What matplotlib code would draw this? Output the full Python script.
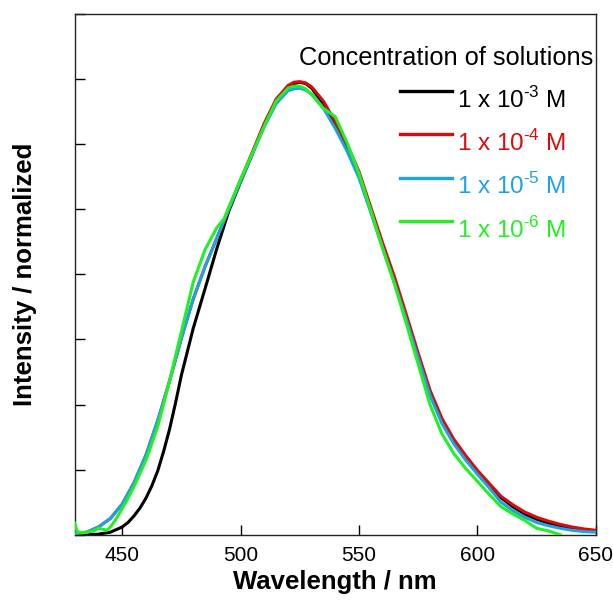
import numpy as np
import matplotlib.pyplot as plt

plt.rcParams['font.family'] = ['Liberation Sans', 'DejaVu Sans']
plt.rcParams['mathtext.fontset'] = 'custom'
plt.rcParams['mathtext.rm'] = 'Liberation Sans'

# intensities (tick units, peak ~6.95)
wl_k = [430, 435, 440, 445, 450, 452.5, 455, 457.5, 460, 462.5, 465, 467.5,
        470, 472.5, 475, 480, 485, 490, 495, 500, 505, 510, 515, 520, 522.5,
        525, 527.5, 530, 535, 540, 545, 550, 555, 560, 565, 570, 575, 580, 585,
        590, 595, 600, 605, 610, 615, 620, 625, 630, 635, 640, 645, 650]
i_1e3 = [0.0, 0.0, 0.01, 0.04, 0.12, 0.19, 0.29, 0.41, 0.56, 0.75, 0.98, 1.28,
         1.62, 2.02, 2.45, 3.17, 3.78, 4.40, 4.97, 5.42, 5.85, 6.30, 6.66, 6.88,
         6.93, 6.95, 6.93, 6.86, 6.62, 6.30, 5.95, 5.53, 4.98, 4.42, 3.90, 3.32,
         2.73, 2.17, 1.75, 1.43, 1.19, 0.97, 0.77, 0.57, 0.43, 0.32, 0.24, 0.18,
         0.14, 0.10, 0.07, 0.05]

wl = [430, 435, 440, 445, 450, 455, 460, 465, 470, 475, 480, 485, 490, 495,
      500, 505, 510, 515, 520, 522.5, 525, 527.5, 530, 535, 540, 545, 550, 555,
      560, 565, 570, 575, 580, 585, 590, 595, 600, 605, 610, 615, 620, 625,
      630, 635, 640, 645, 650]

i_1e4 = [0.02, 0.04, 0.12, 0.25, 0.47, 0.80, 1.22, 1.75, 2.36, 3.02, 3.62, 4.12,
         4.56, 5.00, 5.45, 5.88, 6.32, 6.69, 6.90, 6.95, 6.96, 6.94, 6.88, 6.66,
         6.34, 5.99, 5.58, 5.03, 4.48, 3.96, 3.38, 2.79, 2.22, 1.79, 1.47, 1.22,
         0.99, 0.79, 0.59, 0.46, 0.35, 0.27, 0.21, 0.16, 0.12, 0.09, 0.07]

i_1e5 = [0.02, 0.04, 0.12, 0.25, 0.47, 0.80, 1.22, 1.75, 2.36, 3.02, 3.62, 4.12,
         4.56, 5.00, 5.43, 5.85, 6.27, 6.62, 6.82, 6.85, 6.86, 6.83, 6.77, 6.55,
         6.24, 5.89, 5.48, 4.95, 4.40, 3.87, 3.30, 2.71, 2.14, 1.71, 1.40, 1.15,
         0.93, 0.72, 0.50, 0.37, 0.27, 0.19, 0.14, 0.10, 0.07, 0.05, 0.04]

wl_g = [430, 431, 433, 435, 438, 440, 443.5, 445, 447, 450, 452, 455, 460, 465,
        470, 475, 480, 485, 490, 493, 495, 500, 505, 510, 515, 520, 522.5, 525,
        527.5, 530, 535, 540, 545, 550, 555, 560, 565, 570, 575, 580, 585, 590,
        595, 600, 605, 610, 615, 620, 625, 630, 635]
i_1e6 = [0.18, 0.05, 0.03, 0.04, 0.06, 0.10, 0.07, 0.12, 0.22, 0.40, 0.53, 0.74,
         1.14, 1.66, 2.36, 3.12, 3.88, 4.38, 4.72, 4.85, 5.03, 5.46, 5.86, 6.28,
         6.66, 6.86, 6.89, 6.89, 6.85, 6.76, 6.55, 6.42, 6.02, 5.55, 4.98, 4.40,
         3.85, 3.24, 2.62, 2.00, 1.55, 1.25, 1.02, 0.82, 0.62, 0.43, 0.32, 0.22,
         0.10, 0.06, 0.0]

labels = ['1 x 10$^{\\text{-3}}$ M', '1 x 10$^{\\text{-4}}$ M',
          '1 x 10$^{\\text{-5}}$ M', '1 x 10$^{\\text{-6}}$ M']
colors = ['#000000', '#dd0a0a', '#1ba3e3', '#22f022']

peak = max(i_1e3)

fig = plt.figure(figsize=(6.13, 6.05), dpi=100)
ax = fig.add_axes([0.122, 0.116, 0.850, 0.861])

series = [(wl_k, i_1e3), (wl, i_1e4), (wl, i_1e5), (wl_g, i_1e6)]
for k, (x, y) in enumerate(series):
    ax.plot(x, np.array(y) / peak, color=colors[k], lw=2.2, zorder=2 + k,
            solid_joinstyle='round')

ax.set_xlim(430, 650)
ax.set_ylim(0, 8 / peak)
ax.set_xticks([450, 500, 550, 600, 650])
ax.set_yticks(np.arange(0, 8.5, 1) / peak)
ax.set_yticklabels([])
ax.tick_params(axis='both', direction='in', length=7, width=1, labelsize=15,
               pad=8)
for s in ax.spines.values():
    s.set_linewidth(1)
    s.set_color('#222222')

ax.set_xlabel('Wavelength / nm', fontsize=18.5, fontweight='bold', labelpad=4)
ax.set_ylabel('Intensity / normalized', fontsize=18.5, fontweight='bold', labelpad=19)

# legend drawn by hand to match the reference layout
ax.text(0.995, 0.902, 'Concentration of solutions', transform=ax.transAxes,
        ha='right', va='baseline', fontsize=18.3)
for k in range(4):
    yl = 0.852 - k * 0.0832
    ax.plot([0.624, 0.724], [yl, yl], transform=ax.transAxes, color=colors[k],
            lw=2.4, clip_on=False)
    ax.text(0.734, 0.820 - k * 0.0832, labels[k], transform=ax.transAxes,
            ha='left', va='baseline', fontsize=17.5, color=colors[k])

fig.savefig('out.png', dpi=100)
